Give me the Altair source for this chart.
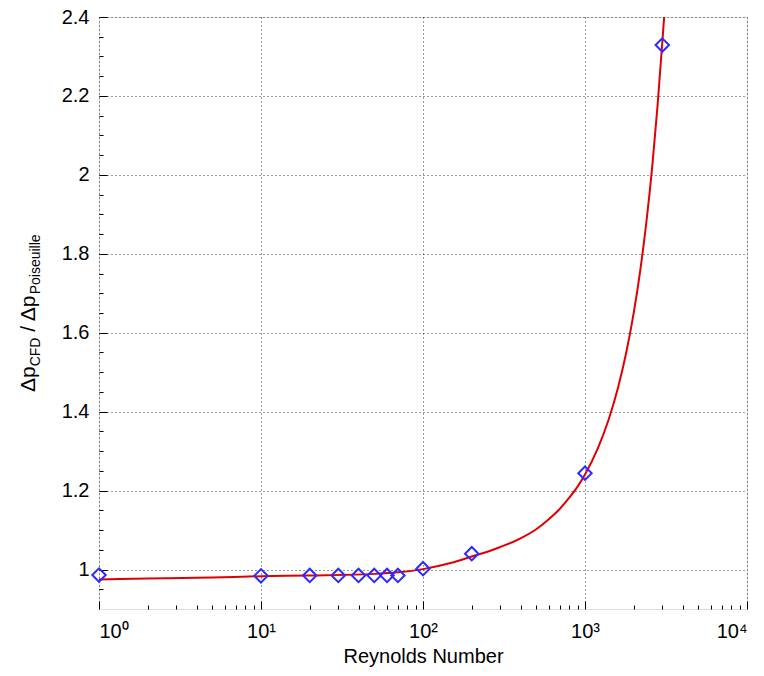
import altair as alt
import pandas as pd

# Simulation points
re_pts = [1, 10, 20, 30, 40, 50, 60, 70, 100, 200, 1000, 3000]
dp_pts = [0.986, 0.984, 0.985, 0.985, 0.985, 0.985, 0.985, 0.985, 1.002, 1.040, 1.244, 2.329]

# Fitted curve
re_fit = [1, 2, 5, 10, 20, 50, 70, 100, 150, 200, 250, 300, 400, 500, 600, 700,
          800, 900, 1000, 1200, 1400, 1600, 1800, 2000, 2200, 2400, 2600, 2800,
          3000, 3080]
dp_fit = [0.975, 0.977, 0.980, 0.983, 0.985, 0.989, 0.993, 1.001, 1.017, 1.033,
          1.045, 1.057, 1.079, 1.102, 1.128, 1.154, 1.182, 1.210, 1.241, 1.307,
          1.380, 1.461, 1.551, 1.651, 1.762, 1.885, 2.021, 2.172, 2.335, 2.400]

x_major = [1, 10, 100, 1000, 10000]
x_minor = [2, 3, 4, 5, 6, 7, 8, 9,
           20, 30, 40, 50, 60, 70, 80, 90,
           200, 300, 400, 500, 600, 700, 800, 900,
           2000, 3000, 4000, 5000, 6000, 7000, 8000, 9000]
y_major = [1.0, 1.2, 1.4, 1.6, 1.8, 2.0, 2.2, 2.4]
y_minor = [0.95, 1.05, 1.1, 1.15, 1.25, 1.3, 1.35, 1.45, 1.5, 1.55,
           1.65, 1.7, 1.75, 1.85, 1.9, 1.95, 2.05, 2.1, 2.15, 2.25, 2.3, 2.35]

title_main1 = "Δp"
title_sub1 = "CFD"
title_main2 = "/ Δp"
title_sub2 = "Poiseuille"

pts = pd.DataFrame({"Re": re_pts, "dp": dp_pts})
fit = pd.DataFrame({"Re": re_fit, "dp": dp_fit})

FONT = "Liberation Sans"
xscale = alt.Scale(type="log", domain=[1, 10000], nice=False)
yscale = alt.Scale(domain=[0.9, 2.4], nice=False, zero=False)

label_expr = ("datum.value == 1 ? '10⁰' : datum.value == 10 ? '10¹' : "
              "datum.value == 100 ? '10²' : datum.value == 1000 ? '10³' : '10⁴'")

GRID_DASH = [1, 3]
GRID_COLOR = "#111111"

x_major_axis = alt.Axis(values=x_major, labelExpr=label_expr, orient="bottom",
                        grid=True, gridDash=GRID_DASH, gridColor=GRID_COLOR, gridWidth=1,
                        gridOpacity=0.85,
                        domain=False, tickSize=8, offset=-8, tickColor="black",
                        tickWidth=1, labelPadding=12, labelFontSize=20,
                        labelFont=FONT, labelColor="black", title="Reynolds Number",
                        titleFont=FONT, titleFontSize=20, titleFontWeight="normal",
                        titleColor="black", titlePadding=5)
y_major_axis = alt.Axis(values=y_major, format="~g", orient="left",
                        grid=True, gridDash=GRID_DASH, gridColor=GRID_COLOR, gridWidth=1,
                        gridOpacity=0.85,
                        domain=False, tickSize=8, offset=-8, tickColor="black",
                        tickWidth=1, labelPadding=10, labelFontSize=20,
                        labelFont=FONT, labelColor="black", title=None)

x_minor_axis = alt.Axis(values=x_minor, orient="bottom", labels=False, grid=False,
                        domain=False, tickSize=4, offset=-4, tickColor="black",
                        tickWidth=1, title=None)
y_minor_axis = alt.Axis(values=y_minor, orient="left", labels=False, grid=False,
                        domain=False, tickSize=4, offset=-4, tickColor="black",
                        tickWidth=1, title=None)

line = alt.Chart(fit).mark_line(color="#e00000", strokeWidth=2,
                                interpolate="monotone").encode(
    x=alt.X("Re:Q", scale=xscale, axis=x_major_axis),
    y=alt.Y("dp:Q", scale=yscale, axis=y_major_axis),
)

points = alt.Chart(pts).mark_point(shape="diamond", size=180, filled=False,
                                   color="#2b2bff", strokeWidth=2, opacity=1).encode(
    x=alt.X("Re:Q", scale=xscale, axis=None),
    y=alt.Y("dp:Q", scale=yscale, axis=None),
)

minor = alt.Chart(pts).mark_point(opacity=0).encode(
    x=alt.X("Re:Q", scale=xscale, axis=x_minor_axis),
    y=alt.Y("dp:Q", scale=yscale, axis=y_minor_axis),
)

TX = -64
TY = 375


def tpiece(txt, dx, dy, fs):
    return alt.Chart(pd.DataFrame({"t": [txt]})).mark_text(
        angle=270, align="left", baseline="alphabetic", font=FONT,
        fontSize=fs, color="black", dx=dx, dy=dy
    ).encode(x=alt.value(TX), y=alt.value(TY), text="t:N")


w1 = 25.7          # "Δp" at 21px
w2 = 28.8          # "CFD" at 14px
gap = 5.8          # space
w3 = 37.4          # "/ Δp" at 21px
t1 = tpiece(title_main1, 0, 0, 21)
t2 = tpiece(title_sub1, w1, 5, 14)
t3 = tpiece(title_main2, w1 + w2 + gap, 0, 21)
t4 = tpiece(title_sub2, w1 + w2 + gap + w3, 5, 14)

chart = alt.layer(line, points, minor, t1, t2, t3, t4).resolve_axis(
    x="independent", y="independent"
).properties(
    width=648, height=592,
    autosize=alt.AutoSizeParams(type="none"),
    padding={"left": 91, "top": 9, "right": 9, "bottom": 59},
).configure_view(stroke="black", strokeWidth=2).configure(background="white")

chart.save("out.html", embed_options={"renderer": "svg", "actions": False})
